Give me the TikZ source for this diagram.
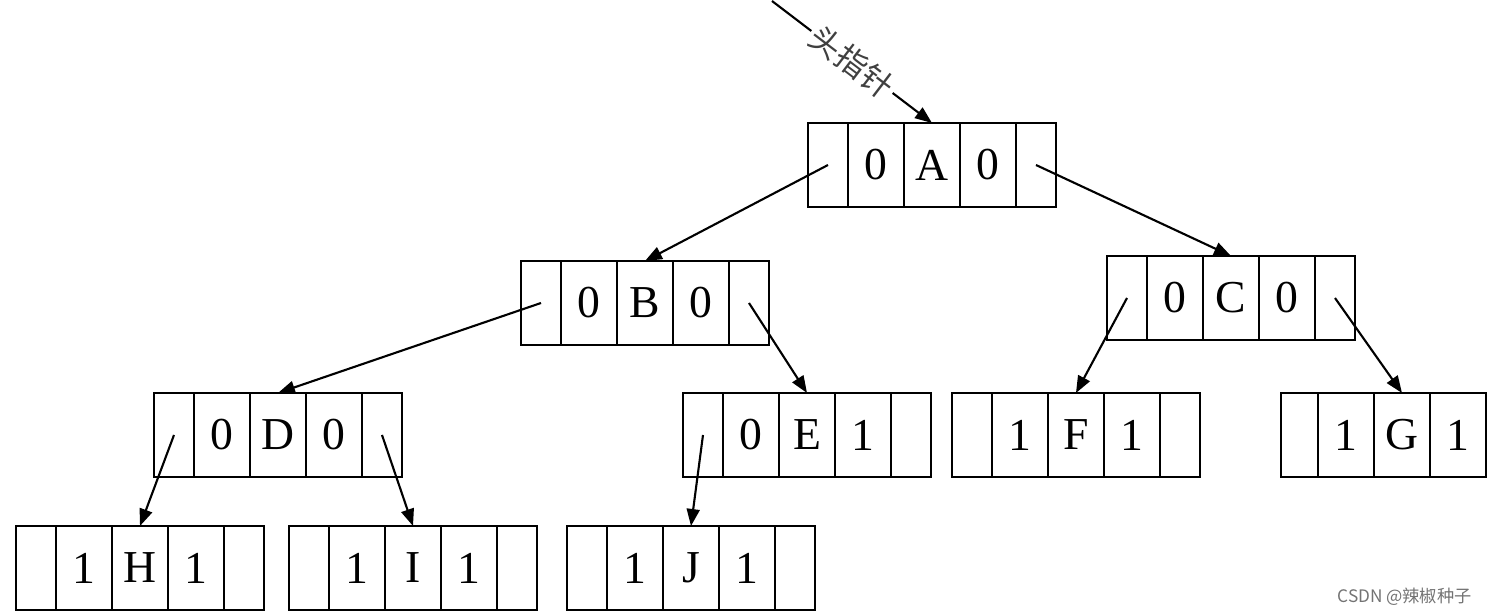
\documentclass[tikz,border=0pt]{standalone}
\usepackage{fontspec}
\setmainfont{Liberation Serif}
\newfontfamily\cjk{Noto Sans CJK SC}
\usepackage{tikz}
\usetikzlibrary{positioning,arrows.meta}
% one tree node: name, north west corner, ltag, data, rtag
\newcommand{\tnode}[5]{%
  \node[tag, anchor=north west] (#1-l) at (#2) {};
  \node[mid, right=0pt of #1-l] (#1-lt) {#3};
  \node[mid, right=0pt of #1-lt] (#1-d) {#4};
  \node[mid, right=0pt of #1-d] (#1-rt) {#5};
  \node[tag, right=0pt of #1-rt] (#1-r) {};
}

\begin{document}
\begin{tikzpicture}[
  cell/.style={draw, line width=0.6pt, minimum height=0.84cm, inner sep=0pt, outer sep=0pt,
    font=\fontsize{13}{15}\selectfont},
  tag/.style={cell, minimum width=0.4cm},
  mid/.style={cell, minimum width=0.56cm},
  arr/.style={-{Triangle[length=1.7mm, width=1.3mm]}, line width=0.6pt},
]
\useasboundingbox (0,0) rectangle (15,6.15);
% nodes
\tnode{A}{8.08,4.92}{0}{A}{0}
\tnode{B}{5.21,3.54}{0}{B}{0}
\tnode{C}{11.07,3.59}{0}{C}{0}
\tnode{D}{1.54,2.22}{0}{D}{0}
\tnode{E}{6.83,2.22}{0}{E}{1}
\tnode{F}{9.52,2.22}{1}{F}{1}
\tnode{H}{0.16,0.89}{1}{H}{1}
\tnode{I}{2.89,0.89}{1}{I}{1}
\tnode{J}{5.67,0.89}{1}{J}{1}
% G runs off the right edge
\node[cell, minimum width=0.37cm, anchor=north west] (G-l) at (12.81,2.22) {};
\node[mid, right=0pt of G-l] (G-lt) {1};
\node[mid, right=0pt of G-lt] (G-d) {G};
\node[mid, right=0pt of G-d] (G-rt) {1};
% head pointer
\coordinate (hp) at (7.72,6.14);
\draw[arr] (hp) -- node[midway, sloped, fill=white, inner sep=1pt, text=black!75,
  font=\cjk\fontsize{9}{10}\selectfont] {头指针} (A-d.north);
% child links
\draw[arr] (A-l.center) -- (B-d.north);
\draw[arr] (A-r.center) -- (C-d.north);
\draw[arr] (B-l.center) -- (D-d.north);
\draw[arr] (B-r.center) -- (E-d.north);
\draw[arr] (C-l.center) -- (F-d.north);
\draw[arr] (C-r.center) -- (G-d.north);
\draw[arr] (D-l.center) -- (H-d.north);
\draw[arr] (D-r.center) -- (I-d.north);
\draw[arr] (E-l.center) -- (J-d.north);
% watermark
\node[text=black!55, font=\cjk\fontsize{4.9}{6}\selectfont, anchor=east] (wm) at (14.84,0.18) {CSDN @辣椒种子};
\end{tikzpicture}
\end{document}
